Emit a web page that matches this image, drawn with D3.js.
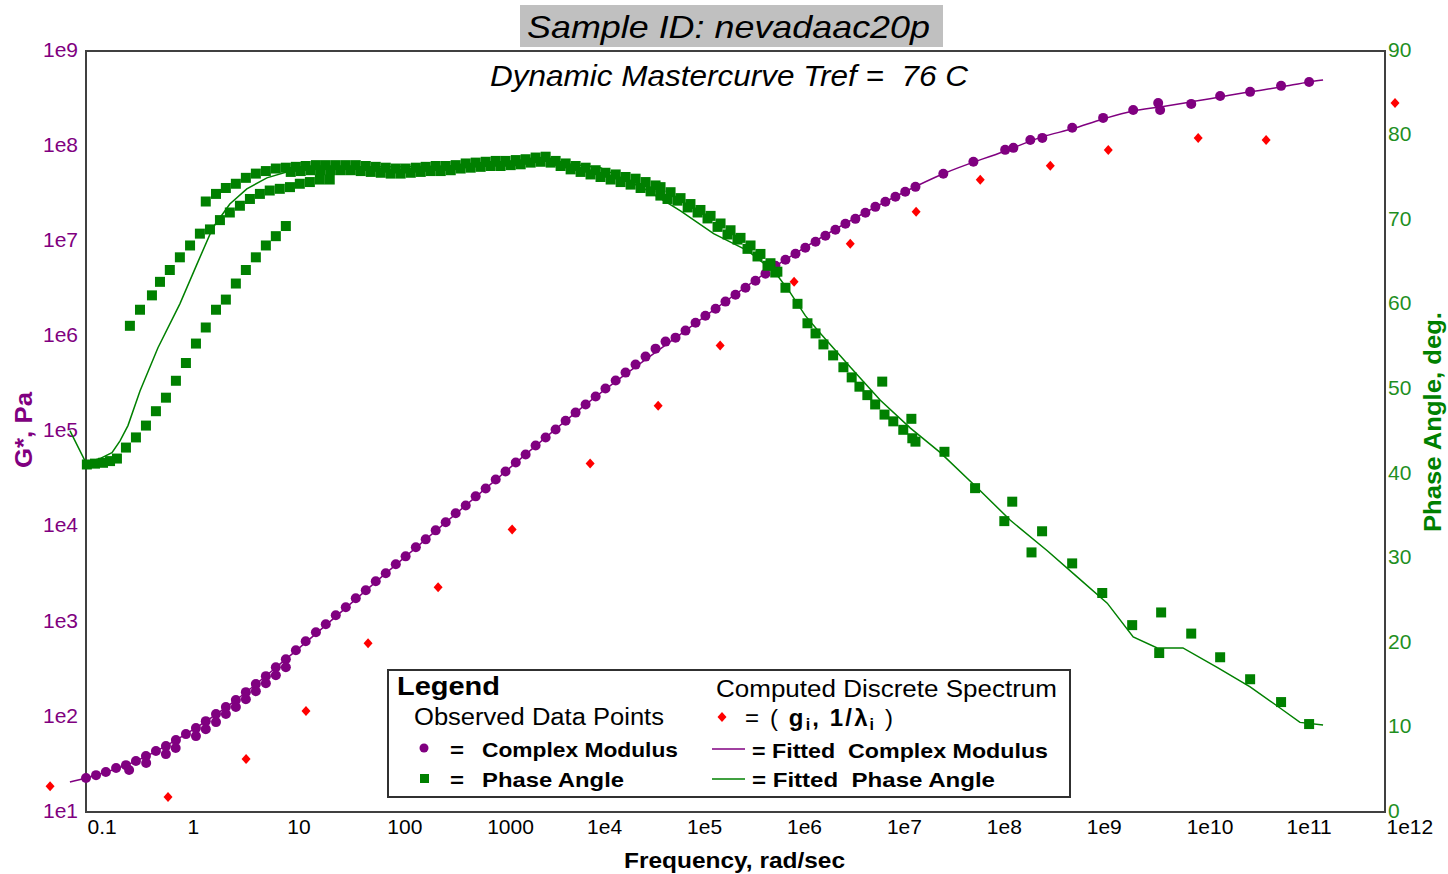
<!DOCTYPE html>
<html>
<head>
<meta charset="utf-8">
<script src="https://cdn.jsdelivr.net/npm/d3@7"></script>
<style>
  body { margin: 0; background: #fff; }
  svg { font-family: "Liberation Sans", Arial, sans-serif; }
  text { white-space: pre; }
</style>
</head>
<body>
<div id="chart"></div>
<script>
// ---- data ----
// tick labels
var freqTicks = [0.1, 1, 10, 100, 1000, 1e4, 1e5, 1e6, 1e7, 1e8, 1e9, 1e10, 1e11, 1e12];
var freqTickLabels = ["0.1", "1", "10", "100", "1000", "1e4", "1e5", "1e6", "1e7", "1e8", "1e9", "1e10", "1e11", "1e12"];
var gTicks = [1e1, 1e2, 1e3, 1e4, 1e5, 1e6, 1e7, 1e8, 1e9];
var gTickLabels = ["1e1", "1e2", "1e3", "1e4", "1e5", "1e6", "1e7", "1e8", "1e9"];
var phaseTicks = [0, 10, 20, 30, 40, 50, 60, 70, 80, 90];

// complex modulus, observed (several overlapping sweeps)
var modFreqA = [0.1, 0.126, 0.158, 0.2, 0.251, 0.316, 0.398, 0.501, 0.631, 0.794,
  1, 1.26, 1.58, 2, 2.51, 3.16, 3.98, 5.01, 6.31, 7.94,
  10, 12.6, 15.8, 20, 25.1, 31.6, 39.8, 50.1, 63.1, 79.4,
  100, 126, 158, 200, 251, 316, 398, 501, 631, 794,
  1000, 1260, 1580, 2000, 2510, 3160, 3980, 5010, 6310, 7940,
  1e4, 1.26e4, 1.58e4, 2e4, 2.51e4, 3.16e4, 3.98e4, 5.01e4, 6.31e4,
  7.94e4, 1e5, 1.26e5, 1.58e5, 2e5, 2.51e5, 3.16e5, 3.98e5, 5.01e5, 6.31e5,
  7.94e5, 1e6, 1.26e6, 1.58e6, 2e6, 2.51e6, 3.16e6, 3.98e6, 5.01e6, 6.31e6,
  7.94e6, 1e7, 1.26e7, 1.58e7, 2e7];
var modA = [22.8, 24.4, 26.3, 29.0, 31.1, 34.3, 38.7, 43.7, 49.3, 57.0,
  65.9, 76.2, 90.2, 107, 127, 150, 182, 221, 268, 333,
  404, 502, 624, 776, 942, 1170, 1420, 1770, 2140, 2660,
  3230, 4020, 4870, 6060, 7350, 9140, 11100, 13800, 16700, 20800,
  25200, 31300, 38000, 47300, 57400, 71300, 86500, 105000, 130000, 158000,
  192000, 233000, 283000, 343000, 416000, 505000, 613000, 743000, 881000,
  970000, 1.15e6, 1.39e6, 1.65e6, 1.95e6, 2.32e6, 2.74e6, 3.25e6, 3.85e6, 4.56e6,
  5.53e6, 6.40e6, 7.40e6, 8.55e6, 9.89e6, 1.14e7, 1.32e7, 1.53e7, 1.72e7, 1.99e7,
  2.30e7, 2.60e7, 2.93e7, 3.31e7, 3.73e7];
var modFreqB = [0.27, 0.4, 0.63, 0.79, 1.26, 1.58, 2.0, 2.51, 3.16, 3.98, 5.01, 6.31, 7.94, 10];
var modB = [27.6, 32.7, 40.6, 47.0, 62.8, 74.3, 88.1, 107, 127, 153, 186, 226, 274, 333];
var modFreqC = [3.8e7, 7.6e7, 1.58e8, 1.91e8, 2.82e8, 3.72e8, 7.41e8, 1.51e9, 3.02e9, 5.37e9, 5.62e9, 1.15e10, 2.24e10, 4.47e10, 9.12e10, 1.74e11];
var modC = [5.12e7, 6.84e7, 9.14e7, 9.59e7, 1.16e8, 1.22e8, 1.56e8, 1.98e8, 2.40e8, 2.84e8, 2.40e8, 2.78e8, 3.37e8, 3.72e8, 4.30e8, 4.73e8];

// phase angle, observed
var phaseFreqA = [0.102, 0.123, 0.148, 0.174, 0.204, 0.251, 0.316, 0.398, 0.501, 0.631, 0.794, 1.0, 1.26, 1.58, 2.0, 2.51, 3.16, 3.98, 5.01, 6.31, 7.94, 10];
var phaseA = [41.1, 41.2, 41.3, 41.5, 41.8, 43.1, 44.3, 45.7, 47.4, 49.0, 51.0, 53.1, 55.4, 57.3, 59.4, 60.6, 62.5, 64.1, 65.6, 67.0, 68.1, 69.3];
var phaseFreqB = [0.275, 0.347, 0.457, 0.55, 0.69, 0.87, 1.10, 1.38, 1.74, 2.19, 2.75, 3.47, 4.37, 5.5, 6.9, 8.7, 11.0, 13.8, 17.4, 21.9, 27.5];
var phaseB = [57.5, 59.4, 61.1, 62.7, 64.1, 65.6, 67.0, 68.4, 68.9, 70.0, 70.9, 71.7, 72.5, 73.1, 73.5, 73.7, 73.9, 74.3, 74.5, 74.8, 74.8];
var phaseFreqC = [1.58, 2, 2.51, 3.16, 3.98, 5.01, 6.31, 7.94,
  10, 12.6, 15.8, 20, 25.1, 31.6, 39.8, 50.1, 63.1, 79.4,
  100, 126, 158, 200, 251, 316, 398, 501, 631, 794,
  1000, 1260, 1580, 2000, 2510, 3160, 3980, 5010, 6310, 7940,
  1e4, 1.26e4, 1.58e4, 2e4, 2.51e4, 3.16e4, 3.98e4, 5.01e4];
var phaseC = [72.2, 73.1, 73.8, 74.3, 75.0, 75.5, 75.8, 76.1,
  76.2, 76.3, 76.4, 76.5, 76.5, 76.5, 76.5, 76.5, 76.4, 76.3,
  76.2, 76.1, 76.1, 76.2, 76.3, 76.4, 76.4, 76.5, 76.7, 76.8,
  76.9, 77.0, 77.0, 77.1, 77.2, 77.4, 77.5, 77.0, 76.7, 76.4,
  76.2, 75.9, 75.6, 75.4, 75.1, 74.9, 74.5, 74.1];
var phaseFreqD = [11.2, 14.1, 17.8, 22.4, 28.2, 35.5, 44.7, 56.2, 70.8, 89.1,
  112, 141, 178, 224, 282, 355, 447, 562, 708, 891,
  1120, 1410, 1780, 2240, 2820, 3550, 4470, 5620, 7080, 8910,
  1.12e4, 1.41e4, 1.78e4, 2.24e4, 2.82e4, 3.55e4, 4.47e4,
  5.62e4, 7.08e4, 8.91e4, 1.12e5, 1.41e5, 1.78e5, 2.24e5, 2.82e5, 3.55e5, 4.47e5, 5.62e5, 7.08e5, 8.3e5];
var phaseD = [75.7, 75.8, 75.9, 75.9, 75.9, 75.9, 75.9, 75.8, 75.7, 75.6,
  75.5, 75.5, 75.6, 75.7, 75.8, 75.8, 75.9, 76.1, 76.2, 76.3,
  76.4, 76.4, 76.5, 76.6, 76.8, 76.9, 76.8, 76.4, 76.0, 75.7,
  75.4, 75.1, 74.8, 74.5, 74.2, 73.8, 73.4,
  73.9, 73.3, 72.6, 71.9, 71.2, 70.5, 69.6, 68.8, 67.9, 67.0, 66.0, 64.9, 63.9];
var phaseFreqE = [5.6e4, 6.6e4, 8.3e4, 1.05e5, 1.32e5, 1.66e5, 2.09e5, 2.63e5, 3.31e5, 4.17e5,
  5.25e5, 6.61e5, 7.9e5, 1.0e6, 1.32e6, 1.66e6, 2.0e6, 2.4e6, 3.0e6, 3.8e6,
  4.6e6, 5.5e6, 6.6e6, 7.9e6, 9.8e6, 1.2e7, 1.51e7, 1.86e7, 2.0e7];
var phaseE = [72.9, 72.5, 72.3, 71.5, 70.9, 70.2, 69.2, 68.3, 67.7, 66.6,
  65.7, 64.6, 63.8, 62.0, 60.1, 57.8, 56.6, 55.3, 54.0, 52.6,
  51.4, 50.3, 49.3, 48.2, 47.0, 46.2, 45.2, 44.2, 43.8];
var phaseFreqF = [9.3e6, 1.82e7, 3.9e7, 7.9e7, 1.55e8, 1.86e8, 2.9e8, 3.7e8, 7.4e8, 1.48e9, 2.95e9, 5.5e9, 5.75e9, 1.15e10, 2.24e10, 4.47e10, 9.12e10, 1.74e11];
var phaseF = [50.9, 46.5, 42.6, 38.3, 34.4, 36.7, 30.7, 33.2, 29.4, 25.9, 22.1, 18.8, 23.6, 21.1, 18.3, 15.7, 13.0, 10.4];

// fitted curves
var fitModFreq = [0.069, 0.1, 0.316, 1, 3.16, 10, 100, 1000, 1e4, 1e5, 1e6, 1e7, 3.8e7, 1.58e8, 3.72e8, 7.41e8, 1.51e9, 3.02e9, 5.62e9, 1.15e10, 2.24e10, 4.47e10, 9.12e10, 1.74e11, 2.4e11];
var fitMod = [20.7, 22.8, 34.3, 65.9, 150, 404, 3230, 25200, 192000, 1.15e6, 6.4e6, 2.6e7, 5.12e7, 8.9e7, 1.25e8, 1.52e8, 1.93e8, 2.34e8, 2.58e8, 2.92e8, 3.29e8, 3.72e8, 4.19e8, 4.73e8, 4.96e8];
var fitPhaseFreq = [0.069, 0.1, 0.138, 0.182, 0.219, 0.263, 0.347, 0.525, 0.87, 1.29, 1.86, 2.75, 4.07, 6.46, 11, 27.5, 138, 437, 1860, 3890, 1.41e4, 4.17e4, 8.9e4, 1.91e5, 4.17e5, 7.9e5, 1.12e6, 1.58e6, 2.24e6, 4.47e6, 8.9e6, 1.78e7, 3.55e7, 8.9e7, 1.78e8, 4.17e8, 8.3e8, 1.66e9, 3.02e9, 5.25e9, 9.5e9, 2.09e10, 4.47e10, 8.9e10, 1.41e11, 2.4e11];
var fitPhase = [45.1, 41.3, 41.8, 42.5, 43.9, 45.7, 49.8, 54.9, 60.1, 64.8, 69.1, 71.9, 73.7, 75.0, 75.8, 76.3, 76.3, 76.4, 76.4, 77.0, 76.2, 73.5, 71.1, 68.4, 66.4, 63.8, 61.4, 58.7, 56.6, 52.6, 48.7, 45.4, 42.5, 38.0, 34.5, 30.9, 27.8, 24.7, 20.7, 19.4, 19.4, 17.1, 14.8, 12.3, 10.6, 10.3];

// computed discrete spectrum (g_i vs 1/lambda_i)
var specFreq = [0.0437, 0.662, 4.0, 15.9, 66.5, 334, 1840, 1.11e4, 5.32e4, 2.22e5, 1.22e6, 4.45e6, 2.03e7, 8.9e7, 4.47e8, 1.70e9, 1.35e10, 6.46e10, 1.26e12];
var specG = [18.7, 14.4, 36.0, 115, 594, 2300, 9350, 4.61e4, 1.87e5, 8.0e5, 3.76e6, 9.42e6, 2.04e7, 4.43e7, 6.21e7, 9.12e7, 1.22e8, 1.16e8, 2.84e8];

// ---- drawing ----
var purple = "#800080", green = "#008000", red = "#ff0000";
var plotLeft = 86, plotRight = 1385, plotTop = 51, plotBottom = 812;

var svg = d3.select("#chart").append("svg")
    .attr("width", 1448)
    .attr("height", 874);

var x = d3.scaleLog().domain([0.1, 1e12]).range([plotLeft, plotRight]);
var yG = d3.scaleLog().domain([10, 1e9]).range([plotBottom, plotTop]);
var yP = d3.scaleLinear().domain([0, 90]).range([plotBottom, plotTop]);

// title block
svg.append("rect")
    .attr("x", 520).attr("y", 5).attr("width", 423).attr("height", 42)
    .attr("fill", "#c0c0c0");
svg.append("text")
    .attr("x", 527).attr("y", 38)
    .attr("textLength", 403).attr("lengthAdjust", "spacingAndGlyphs")
    .style("font-size", "32px").style("font-style", "italic")
    .text("Sample ID: nevadaac20p");

// frame
svg.append("rect")
    .attr("x", plotLeft).attr("y", plotTop)
    .attr("width", plotRight - plotLeft).attr("height", plotBottom - plotTop)
    .attr("fill", "none").attr("stroke", "#404040").attr("stroke-width", 2);

svg.append("text")
    .attr("x", 490).attr("y", 86)
    .attr("textLength", 478).attr("lengthAdjust", "spacingAndGlyphs")
    .style("font-size", "30px").style("font-style", "italic")
    .text("Dynamic Mastercurve Tref =  76 C");

// axes (labels only, no tick marks)
var xAxis = svg.append("g")
    .attr("transform", "translate(0," + plotBottom + ")")
    .call(d3.axisBottom(x).tickValues(freqTicks).tickSize(0)
        .tickFormat(function(d, i) { return freqTickLabels[i]; }));
xAxis.select(".domain").remove();
xAxis.selectAll("text")
    .attr("y", 7).attr("dx", 1)
    .style("text-anchor", "start")
    .style("font-size", "21px").style("font-family", "Liberation Sans, Arial")
    .attr("fill", "#000");

var gAxis = svg.append("g")
    .attr("transform", "translate(" + plotLeft + ",0)")
    .call(d3.axisLeft(yG).tickValues(gTicks).tickSize(0).tickPadding(8)
        .tickFormat(function(d, i) { return gTickLabels[i]; }));
gAxis.select(".domain").remove();
gAxis.selectAll("text")
    .attr("dy", "0.25em")
    .style("font-size", "21px").style("font-family", "Liberation Sans, Arial")
    .attr("fill", purple);

var pAxis = svg.append("g")
    .attr("transform", "translate(" + plotRight + ",0)")
    .call(d3.axisRight(yP).tickValues(phaseTicks).tickSize(0).tickPadding(3));
pAxis.select(".domain").remove();
pAxis.selectAll("text")
    .attr("dy", "0.25em")
    .style("font-size", "21px").style("font-family", "Liberation Sans, Arial")
    .attr("fill", "#1f8f1f");

// axis titles
svg.append("text")
    .attr("x", 624).attr("y", 868)
    .attr("textLength", 221).attr("lengthAdjust", "spacingAndGlyphs")
    .style("font-size", "22px").style("font-weight", "bold")
    .text("Frequency, rad/sec");
svg.append("text")
    .attr("transform", "translate(32,468) rotate(-90)")
    .attr("textLength", 76).attr("lengthAdjust", "spacingAndGlyphs")
    .style("font-size", "23px").style("font-weight", "bold")
    .attr("fill", purple)
    .text("G*, Pa");
svg.append("text")
    .attr("transform", "translate(1441,532) rotate(-90)")
    .attr("textLength", 220).attr("lengthAdjust", "spacingAndGlyphs")
    .style("font-size", "23px").style("font-weight", "bold")
    .attr("fill", green)
    .text("Phase Angle, deg.");

// fitted lines
var fitModLine = d3.line()
    .x(function(d) { return x(d[0]); })
    .y(function(d) { return yG(d[1]); })
    .curve(d3.curveMonotoneX);
var fitPhaseLine = d3.line()
    .x(function(d) { return x(d[0]); })
    .y(function(d) { return yP(d[1]); });

svg.append("path")
    .datum(d3.zip(fitModFreq, fitMod))
    .attr("d", fitModLine)
    .attr("fill", "none").attr("stroke", purple).attr("stroke-width", 1.5);
svg.append("path")
    .datum(d3.zip(fitPhaseFreq, fitPhase))
    .attr("d", fitPhaseLine)
    .attr("fill", "none").attr("stroke", green).attr("stroke-width", 1.5);

// observed complex modulus
var modPoints = d3.zip(modFreqA, modA)
    .concat(d3.zip(modFreqB, modB))
    .concat(d3.zip(modFreqC, modC));
svg.append("g").selectAll("circle")
    .data(modPoints)
    .enter().append("circle")
    .attr("cx", function(d) { return x(d[0]); })
    .attr("cy", function(d) { return yG(d[1]); })
    .attr("r", 5)
    .attr("fill", purple);

// observed phase angle
var phasePoints = d3.zip(phaseFreqA, phaseA)
    .concat(d3.zip(phaseFreqB, phaseB))
    .concat(d3.zip(phaseFreqC, phaseC))
    .concat(d3.zip(phaseFreqD, phaseD))
    .concat(d3.zip(phaseFreqE, phaseE))
    .concat(d3.zip(phaseFreqF, phaseF));
svg.append("g").selectAll("rect")
    .data(phasePoints)
    .enter().append("rect")
    .attr("x", function(d) { return x(d[0]) - 5; })
    .attr("y", function(d) { return yP(d[1]) - 5; })
    .attr("width", 10).attr("height", 10)
    .attr("fill", green);

// discrete spectrum
var diamond = "M0,-5L4.5,0L0,5L-4.5,0Z";
svg.append("g").selectAll("path")
    .data(d3.zip(specFreq, specG))
    .enter().append("path")
    .attr("d", diamond)
    .attr("transform", function(d) { return "translate(" + x(d[0]) + "," + yG(d[1]) + ")"; })
    .attr("fill", red);

// legend
var lg = svg.append("g");
lg.append("rect")
    .attr("x", 388).attr("y", 670).attr("width", 682).attr("height", 127)
    .attr("fill", "#fff").attr("stroke", "#303030").attr("stroke-width", 2);
lg.append("text").attr("x", 397).attr("y", 695)
    .attr("textLength", 103).attr("lengthAdjust", "spacingAndGlyphs")
    .style("font-size", "26px").style("font-weight", "bold").text("Legend");
lg.append("text").attr("x", 414).attr("y", 725)
    .attr("textLength", 250).attr("lengthAdjust", "spacingAndGlyphs")
    .style("font-size", "23px").text("Observed Data Points");
lg.append("text").attr("x", 716).attr("y", 697)
    .attr("textLength", 341).attr("lengthAdjust", "spacingAndGlyphs")
    .style("font-size", "23px").text("Computed Discrete Spectrum");

lg.append("circle").attr("cx", 424).attr("cy", 748).attr("r", 4.5).attr("fill", purple);
lg.append("rect").attr("x", 420).attr("y", 774).attr("width", 9).attr("height", 9).attr("fill", green);
lg.append("path").attr("d", diamond).attr("transform", "translate(722,717)").attr("fill", red);
lg.append("line").attr("x1", 712).attr("x2", 745).attr("y1", 749).attr("y2", 749)
    .attr("stroke", purple).attr("stroke-width", 1.5);
lg.append("line").attr("x1", 712).attr("x2", 745).attr("y1", 779).attr("y2", 779)
    .attr("stroke", green).attr("stroke-width", 1.5);

var boldItems = [
    { x: 450, y: 757, w: 14, t: "=" },
    { x: 482, y: 757, w: 196, t: "Complex Modulus" },
    { x: 450, y: 787, w: 14, t: "=" },
    { x: 482, y: 787, w: 142, t: "Phase Angle" },
    { x: 752, y: 758, w: 296, t: "= Fitted  Complex Modulus" },
    { x: 752, y: 787, w: 243, t: "= Fitted  Phase Angle" }
];
lg.selectAll(".item").data(boldItems).enter().append("text")
    .attr("class", "item")
    .attr("x", function(d) { return d.x; })
    .attr("y", function(d) { return d.y; })
    .attr("textLength", function(d) { return d.w; })
    .attr("lengthAdjust", "spacingAndGlyphs")
    .style("font-size", "21px").style("font-weight", "bold")
    .text(function(d) { return d.t; });

var spec = lg.append("text").attr("x", 745).attr("y", 726)
    .attr("textLength", 148).attr("lengthAdjust", "spacing")
    .style("font-size", "24px");
spec.append("tspan").text("= ( ");
spec.append("tspan").style("font-weight", "bold").text("g");
spec.append("tspan").attr("dy", 4).style("font-size", "16px").style("font-weight", "bold").text("i");
spec.append("tspan").attr("dy", -4).style("font-weight", "bold").text(", 1/λ");
spec.append("tspan").attr("dy", 4).style("font-size", "16px").style("font-weight", "bold").text("i");
spec.append("tspan").attr("dy", -4).text(" )");
</script>
</body>
</html>
